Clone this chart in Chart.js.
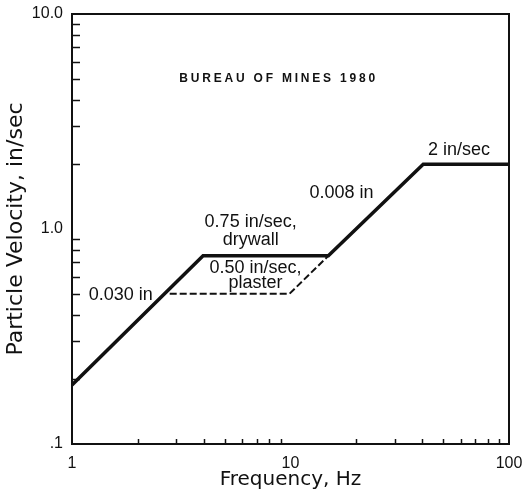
<!DOCTYPE html>
<html><head><meta charset="utf-8">
<script src="https://cdn.jsdelivr.net/npm/chart.js@4.4.1/dist/chart.umd.min.js"></script>
<style>html,body{margin:0;padding:0;background:#fff}#wrap{width:522px;height:494px}</style>
</head><body><div id="wrap"><canvas id="c" width="522" height="494"></canvas></div>
<script>
// Data (Hz, in/sec)
const drywallFreq = [1, 3.98, 14.9, 40.5, 100];
const drywallVel  = [0.188, 0.75, 0.75, 2.0, 2.0];
const plasterFreq = [2.8, 9.9, 14.9];
const plasterVel  = [0.5, 0.5, 0.75];
const xTickLabels = [1, 10, 100];
const yTickLabels = [0.1, 1, 10];
const yLabelText = {0.1: '.1', 1: '1.0', 10: '10.0'};
// annotation anchors (Hz, in/sec) and text
const noteFreq  = [8.82, 59, 17.1, 6.57, 6.92, 1.67];
const noteVel   = [4.99, 2.33, 1.47, 1.08, 0.659, 0.493];
const noteText  = [['BUREAU OF MINES 1980'], ['2 in/sec'], ['0.008 in'], ['0.75 in/sec,', 'drywall'], ['0.50 in/sec,', 'plaster'], ['0.030 in']];

const FONT = '"Liberation Sans", Arial, sans-serif';
const toPts = (xs, ys) => xs.map((x, i) => ({x: x, y: ys[i]}));

const frame = {
  id: 'frame',
  afterDraw(chart) {
    const {ctx, chartArea: a, scales: {x, y}} = chart;
    ctx.save();
    ctx.strokeStyle = '#111';
    ctx.lineWidth = 2;
    ctx.strokeRect(a.left, a.top, a.right - a.left, a.bottom - a.top);
    ctx.lineWidth = 1.5;
    for (let d = 0.1; d < 10; d *= 10) {
      for (let k = 2; k <= 9; k++) {
        const py = Math.round(y.getPixelForValue(d * k)) + 0.5;
        ctx.beginPath(); ctx.moveTo(a.left, py); ctx.lineTo(a.left + 8, py); ctx.stroke();
      }
    }
    for (let d = 1; d < 100; d *= 10) {
      for (let k = 2; k <= 9; k++) {
        const px = Math.round(x.getPixelForValue(d * k)) + 0.5;
        ctx.beginPath(); ctx.moveTo(px, a.bottom); ctx.lineTo(px, a.bottom - 5); ctx.stroke();
      }
    }
    ctx.fillStyle = '#111';
    ctx.textAlign = 'center';
    ctx.textBaseline = 'middle';
    noteText.forEach((lines, i) => {
      const px = x.getPixelForValue(noteFreq[i]);
      const py = y.getPixelForValue(noteVel[i]);
      if (i === 0) {
        ctx.font = 'bold 12px ' + FONT;
        if ('letterSpacing' in ctx) ctx.letterSpacing = '2.8px';
      } else {
        ctx.font = '18px ' + FONT;
        if ('letterSpacing' in ctx) ctx.letterSpacing = '0px';
      }
      const gap = i === 3 ? 18 : 15;
      lines.forEach((t, j) => ctx.fillText(t, px, py + j * gap));
    });
    ctx.restore();
  }
};

new Chart(document.getElementById('c'), {
  type: 'scatter',
  data: {
    datasets: [
      {data: toPts(drywallFreq, drywallVel), showLine: true, borderColor: '#111', borderWidth: 3.5, pointRadius: 0, fill: false, tension: 0},
      {data: toPts(plasterFreq, plasterVel), showLine: true, borderColor: '#111', borderWidth: 2, borderDash: [7, 3], pointRadius: 0, fill: false, tension: 0}
    ]
  },
  options: {
    responsive: false,
    animation: false,
    layout: {padding: {top: 14, right: 13, left: 0, bottom: 0}},
    plugins: {legend: {display: false}, tooltip: {enabled: false}},
    scales: {
      x: {
        type: 'logarithmic', min: 1, max: 100,
        grid: {display: false}, border: {display: false},
        afterBuildTicks: s => { s.ticks = xTickLabels.map(v => ({value: v})); },
        afterFit: s => { s.height = 50; s.paddingLeft = 0; s.paddingRight = 0; },
        ticks: {color: '#111', padding: 2, maxRotation: 0, autoSkip: false,
          font: {family: FONT, size: 16},
          callback: v => String(v)},
        title: {display: true, text: 'Frequency, Hz', color: '#111', padding: {top: 0, bottom: 2},
          font: {family: '"DejaVu Sans", sans-serif', size: 20}}
      },
      y: {
        type: 'logarithmic', min: 0.1, max: 10,
        grid: {display: false}, border: {display: false},
        afterBuildTicks: s => { s.ticks = yTickLabels.map(v => ({value: v})); },
        afterFit: s => { s.width = 72; s.paddingTop = 0; s.paddingBottom = 0; },
        ticks: {color: '#111', padding: 1, autoSkip: false,
          font: {family: FONT, size: 16},
          callback: v => yLabelText[v] || ''},
        title: {display: true, text: 'Particle Velocity, in/sec', color: '#111', padding: {top: 3, bottom: 0},
          font: {family: '"DejaVu Sans", sans-serif', size: 22}}
      }
    }
  },
  plugins: [frame]
});
</script>
</body></html>
